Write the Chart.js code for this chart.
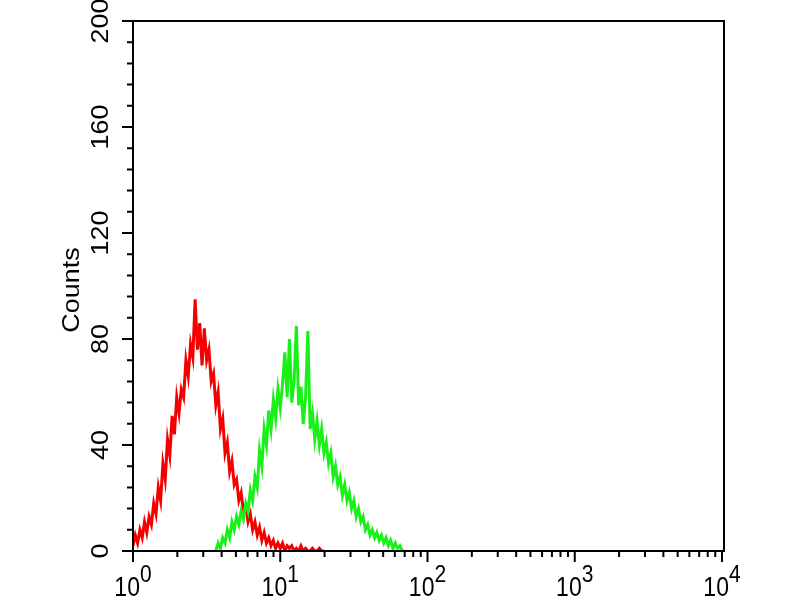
<!DOCTYPE html>
<html>
<head>
<meta charset="utf-8">
<script src="https://cdn.jsdelivr.net/npm/chart.js@4.4.1/dist/chart.umd.min.js"></script>
<style>
  body { margin: 0; background: #fff; }
  #wrap { width: 800px; height: 600px; }
</style>
</head>
<body>
<div id="wrap"><canvas id="histChart" width="800" height="600"></canvas></div>
<script>
// 256 channels over 4 log decades (64 channels per decade)
const channels = 256
const decadeExponents = ["0", "1", "2", "3", "4"]
const yTickLabels = [0, 40, 80, 120, 160, 200]

// red histogram, starts at channel 0
const redStart = 0
const redCounts = [
  2, 6, 3, 8, 5, 11, 7, 13, 10, 18,
  14, 24, 19, 33, 27, 42, 36, 51, 44, 58,
  52, 61, 58, 72, 66, 78, 73, 95, 76, 86,
  70, 84, 72, 76, 64, 67, 55, 60, 46, 50,
  37, 41, 30, 34, 25, 27, 19, 22, 15, 17,
  11, 14, 8, 11, 6, 9, 4, 7, 3, 5,
  2, 4, 1, 3, 1, 3, 0, 2, 1, 2,
  0, 1, 0, 2, 0, 1, 0, 0, 1, 0,
  0, 1, 0, 0
]

// green histogram, starts at channel 36
const greenStart = 36
const greenCounts = [
  0, 3, 1, 5, 3, 8, 5, 11, 8, 13,
  10, 15, 12, 18, 15, 23, 19, 28, 24, 38,
  32, 46, 40, 53, 46, 57, 50, 61, 54, 63,
  75, 58, 80, 56, 64, 85, 55, 62, 48, 58,
  83, 46, 52, 42, 49, 40, 46, 37, 41, 33,
  37, 28, 32, 25, 28, 21, 25, 19, 22, 16,
  19, 13, 16, 11, 13, 8, 10, 6, 8, 5,
  7, 4, 6, 3, 5, 2, 4, 1, 3, 1,
  2, 0, 0
]

const toPoints = (start, counts) => counts.map((c, i) => ({ x: start + i, y: c }))

const FONT = '"Liberation Sans", Arial, sans-serif'
const STRETCH = 1.17

// axes, ticks and labels drawn from the chart's own scales
const axesPlugin = {
  id: "axesPlugin",
  afterDraw(chart) {
    const ctx = chart.ctx
    const xs = chart.scales.x
    const ys = chart.scales.y
    const area = chart.chartArea
    const perDecade = channels / (decadeExponents.length - 1)

    ctx.save()
    ctx.strokeStyle = "#000"
    ctx.fillStyle = "#000"
    ctx.lineWidth = 2
    ctx.strokeRect(area.left, area.top, area.right - area.left + 2, area.bottom - area.top)

    // x ticks: decades + log minor ticks
    ctx.beginPath()
    decadeExponents.forEach((e, d) => {
      const px = xs.getPixelForValue(d * perDecade)
      ctx.moveTo(px, area.bottom)
      ctx.lineTo(px, area.bottom + 11)
      if (d < decadeExponents.length - 1) {
        for (let m = 2; m <= 9; m++) {
          const mx = xs.getPixelForValue((d + Math.log10(m)) * perDecade)
          ctx.moveTo(mx, area.bottom)
          ctx.lineTo(mx, area.bottom + 6)
        }
      }
    })
    // y ticks: labelled every 40, minor every 8
    for (let v = 0; v <= 200; v += 8) {
      const py = ys.getPixelForValue(v)
      const len = v % 40 === 0 ? 11 : 6
      ctx.moveTo(area.left, py)
      ctx.lineTo(area.left - len, py)
    }
    ctx.stroke()

    // x labels 10^n
    decadeExponents.forEach((e, d) => {
      const px = xs.getPixelForValue(d * perDecade)
      ctx.font = "23px " + FONT
      const wBase = ctx.measureText("10").width
      ctx.font = "21px " + FONT
      const wSup = ctx.measureText(e).width
      const left = px - (wBase + wSup) / 2
      ctx.save()
      ctx.translate(left, area.bottom + 45)
      ctx.scale(1, STRETCH)
      ctx.textAlign = "left"
      ctx.textBaseline = "alphabetic"
      ctx.font = "23px " + FONT
      ctx.fillText("10", 0, 0)
      ctx.font = "21px " + FONT
      ctx.fillText(e, wBase, -12)
      ctx.restore()
    })

    // y labels, rotated
    yTickLabels.forEach(v => {
      const py = ys.getPixelForValue(v)
      ctx.save()
      ctx.translate(area.left - 31, py)
      ctx.rotate(-Math.PI / 2)
      ctx.scale(STRETCH, 1)
      ctx.font = "23px " + FONT
      ctx.textAlign = "center"
      ctx.textBaseline = "middle"
      ctx.fillText(String(v), 0, 0)
      ctx.restore()
    })

    // axis title
    ctx.save()
    ctx.translate(73, (area.top + area.bottom) / 2 + 4)
    ctx.rotate(-Math.PI / 2)
    ctx.scale(STRETCH, 1)
    ctx.font = "23px " + FONT
    ctx.textAlign = "center"
    ctx.textBaseline = "middle"
    ctx.fillText("Counts", 0, 0)
    ctx.restore()

    ctx.restore()
  }
}

new Chart(document.getElementById("histChart"), {
  type: "line",
  data: {
    datasets: [
      {
        label: "red",
        data: toPoints(redStart, redCounts),
        borderColor: "#f40000",
        borderWidth: 3,
        pointRadius: 0,
        borderJoinStyle: "miter",
        order: 2
      },
      {
        label: "green",
        data: toPoints(greenStart, greenCounts),
        borderColor: "#18f018",
        borderWidth: 3,
        pointRadius: 0,
        borderJoinStyle: "miter",
        order: 1
      }
    ]
  },
  options: {
    responsive: false,
    animation: false,
    layout: { padding: { left: 133, right: 78, top: 21, bottom: 49 } },
    plugins: {
      legend: { display: false },
      tooltip: { enabled: false }
    },
    scales: {
      x: { type: "linear", min: 0, max: channels, display: false },
      y: { min: 0, max: 200, display: false }
    }
  },
  plugins: [axesPlugin]
})
</script>
</body>
</html>
